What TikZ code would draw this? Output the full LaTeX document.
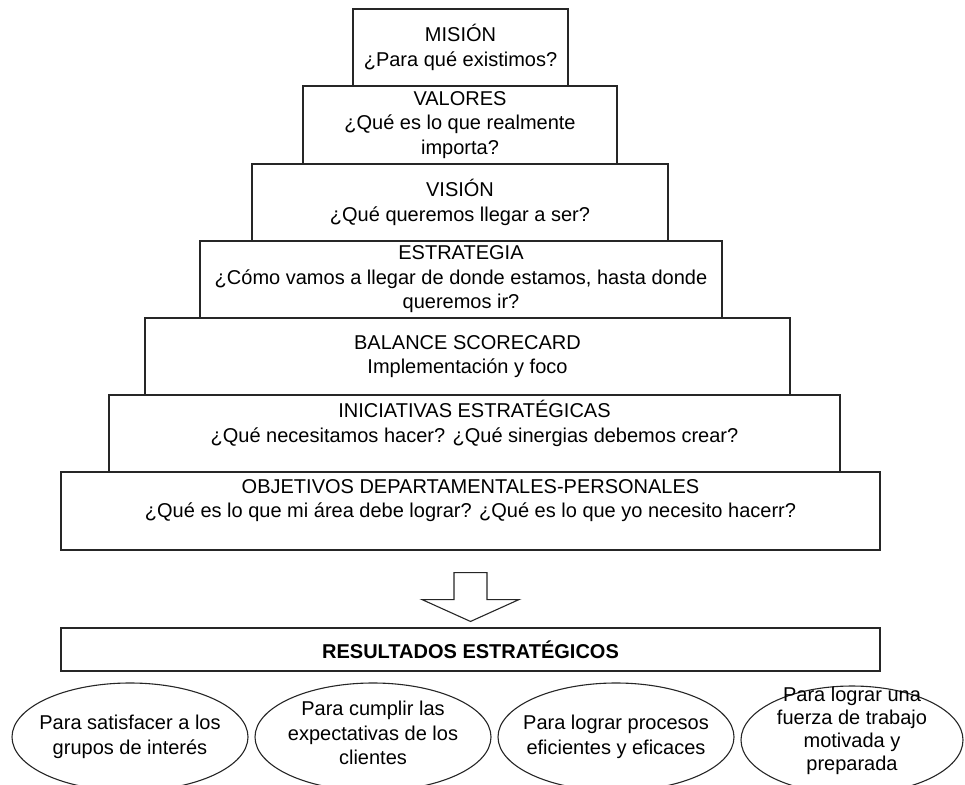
\documentclass[tikz,border=0pt]{standalone}
\usepackage{fontspec}
\setmainfont{Liberation Sans}
\usetikzlibrary{calc,shapes.geometric}
\begin{document}
\begin{tikzpicture}[x=1pt,y=-1pt,
  txt/.style={font=\fontsize{20}{24.5}\selectfont},
  tier/.style={txt, draw=black!85, line width=1.1pt, inner sep=0pt, align=center},
  oval/.style={draw=black!85, ellipse, line width=1.1pt, minimum width=236pt, minimum height=108pt, inner sep=0pt},
  ovaltext/.style={txt, align=center, inner sep=0pt},
  blockarrow/.style={draw=black!85, line width=1.1pt, fill=white, line join=miter}]
\useasboundingbox (0,0) rectangle (965,784);
\clip (0,0) rectangle (965,784);

% pyramid of tiers, top to bottom
\node[tier, minimum width=215pt, minimum height=77pt] (mis) at (460.5,47.5)
  {MISIÓN\\¿Para qué existimos?};
\node[tier, minimum width=314pt, minimum height=78pt] (val) at (460,125)
  {VALORES\\¿Qué es lo que realmente\\importa?};
\node[tier, minimum width=416pt, minimum height=77pt] (vis) at (460,202.5)
  {VISIÓN\\¿Qué queremos llegar a ser?};
\node[tier, minimum width=522pt, minimum height=77pt] (est) at (461,279.5)
  {ESTRATEGIA\\¿Cómo vamos a llegar de donde estamos, hasta donde\\queremos ir?};
\node[tier, minimum width=645pt, minimum height=77pt] (bal) at (467.5,356.5)
  {BALANCE SCORECARD\\Implementación y foco};
\node[tier, minimum width=731pt, minimum height=77pt] (ini) at (474.5,433.5)
  {INICIATIVAS ESTRATÉGICAS\\¿Qué necesitamos hacer? ¿Qué sinergias debemos crear?\\\mbox{}};
\node[tier, minimum width=819pt, minimum height=78pt] (obj) at (470.5,511)
  {OBJETIVOS DEPARTAMENTALES-PERSONALES\\¿Qué es lo que mi área debe lograr? ¿Qué es lo que yo necesito hacerr?\\\mbox{}};

% results box
\node[tier, minimum width=819pt, minimum height=43pt, font=\fontsize{20}{24.5}\selectfont\bfseries] (res) at (470.5,649.5)
  {RESULTADOS ESTRATÉGICOS};

% hollow block arrow from objectives down to results
\draw[blockarrow]
  ($(obj.south)+(-16.5,22)$) -- ($(obj.south)+(16.5,22)$)
  -- ($(obj.south)+(16.5,49)$) -- ($(obj.south)+(48.5,49)$)
  -- ($(res.north)+(0,-6)$)
  -- ($(obj.south)+(-48.5,49)$) -- ($(obj.south)+(-16.5,49)$) -- cycle;

% outcome ovals
\node[oval] (e1) at (130,737) {};
\node[oval] (e2) at (373,737) {};
\node[oval] (e3) at (616,737) {};
\node[oval, minimum width=222pt] (e4) at (852,740) {};
\node[ovaltext] at (e1) {Para satisfacer a los\\grupos de interés};
\node[ovaltext] at ($(e2)+(0,-4)$) {Para cumplir las\\expectativas de los\\clientes};
\node[ovaltext] at (e3) {Para lograr procesos\\eficientes y eficaces};
\node[ovaltext, font=\fontsize{20}{23}\selectfont] at ($(e4)+(0,-9)$) {Para lograr una\\fuerza de trabajo\\motivada y\\preparada};
\end{tikzpicture}
\end{document}
